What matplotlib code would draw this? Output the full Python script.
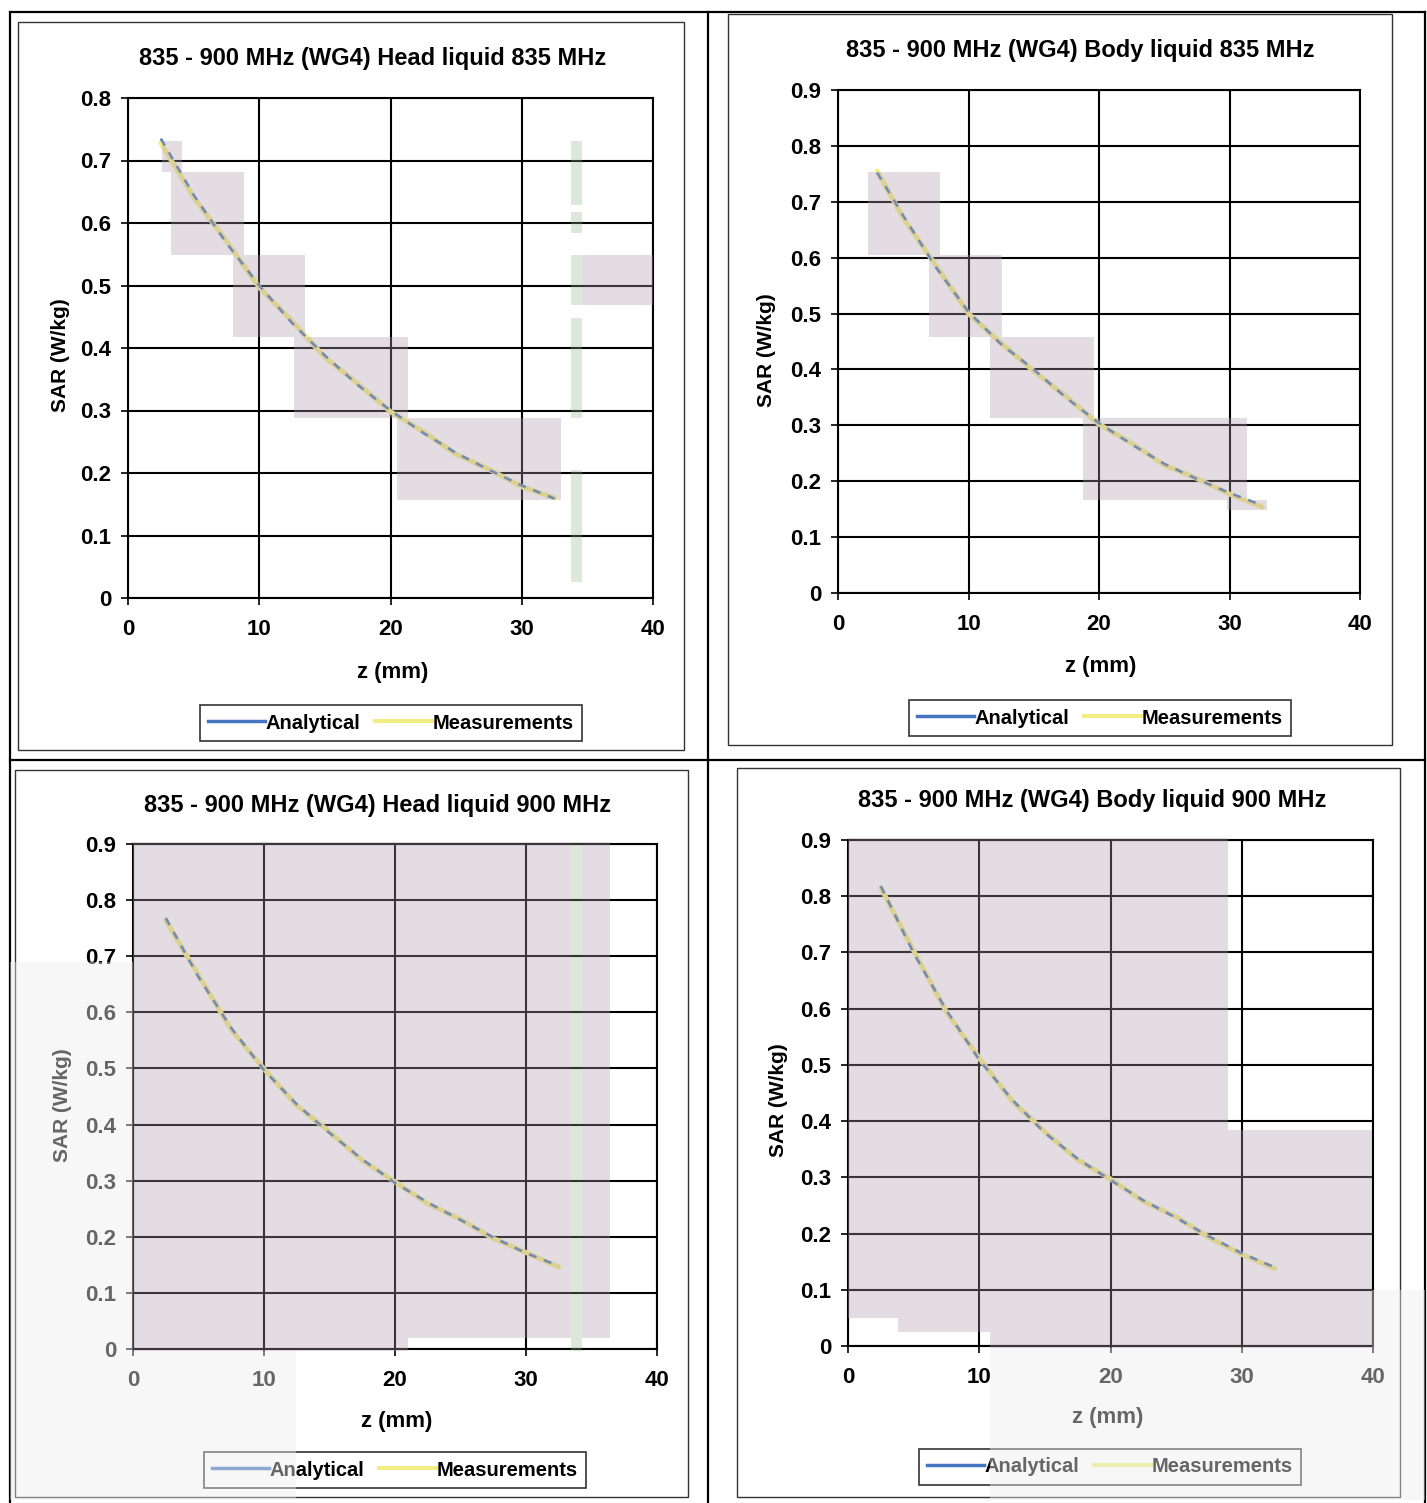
import matplotlib
matplotlib.use("Agg")
import matplotlib.pyplot as plt
from matplotlib.patches import Rectangle
from matplotlib.lines import Line2D

plt.rcParams['font.family'] = ['Liberation Sans', 'DejaVu Sans']
plt.rcParams['font.weight'] = 'bold'

W, H = 1427, 1503

# ---------------- data ----------------
titles = [
    "835 - 900 MHz (WG4) Head liquid 835 MHz",
    "835 - 900 MHz (WG4) Body liquid 835 MHz",
    "835 - 900 MHz (WG4) Head liquid 900 MHz",
    "835 - 900 MHz (WG4) Body liquid 900 MHz",
]
series_names = ["Analytical", "Measurements"]
x_label = "z (mm)"
y_label = "SAR (W/kg)"
x_ticks = [0, 10, 20, 30, 40]
y_max = [0.8, 0.9, 0.9, 0.9]

z_head835 = [2.5, 5, 7.5, 10, 12.5, 15, 17.5, 20, 22.5, 25, 27.5, 30, 32.5]
ana_head835 = [0.735, 0.645, 0.568, 0.500, 0.440, 0.388, 0.341, 0.300, 0.264, 0.232, 0.205, 0.180, 0.159]
mea_head835 = [0.728, 0.641, 0.571, 0.497, 0.443, 0.385, 0.343, 0.298, 0.266, 0.230, 0.206, 0.178, 0.160]

z_body835 = [3, 5, 7.5, 10, 12.5, 15, 17.5, 20, 22.5, 25, 27.5, 30, 32.5]
ana_body835 = [0.752, 0.675, 0.583, 0.503, 0.445, 0.400, 0.349, 0.304, 0.266, 0.231, 0.204, 0.179, 0.157]
mea_body835 = [0.755, 0.671, 0.586, 0.500, 0.447, 0.397, 0.351, 0.302, 0.268, 0.229, 0.205, 0.177, 0.154]

z_head900 = [2.5, 5, 7.5, 10, 12.5, 15, 17.5, 20, 22.5, 25, 27.5, 30, 32.5]
ana_head900 = [0.768, 0.663, 0.572, 0.497, 0.436, 0.385, 0.338, 0.296, 0.261, 0.230, 0.199, 0.171, 0.148]
mea_head900 = [0.764, 0.666, 0.569, 0.499, 0.434, 0.387, 0.336, 0.298, 0.259, 0.231, 0.197, 0.172, 0.146]

z_body900 = [2.5, 5, 7.5, 10, 12.5, 15, 17.5, 20, 22.5, 25, 27.5, 30, 32.5]
ana_body900 = [0.818, 0.699, 0.597, 0.509, 0.438, 0.379, 0.333, 0.295, 0.259, 0.228, 0.195, 0.165, 0.140]
mea_body900 = [0.815, 0.703, 0.594, 0.512, 0.436, 0.381, 0.331, 0.297, 0.257, 0.230, 0.193, 0.163, 0.138]

z_sets = [z_head835, z_body835, z_head900, z_body900]
ana_sets = [ana_head835, ana_body835, ana_head900, ana_body900]
mea_sets = [mea_head835, mea_body835, mea_head900, mea_body900]

# ---------------- layout (pixels) ----------------
plot_boxes = [(128, 98, 653, 598), (838, 90, 1360, 593), (133, 844, 657, 1349), (848, 840, 1373, 1346)]
title_pos = [(373, 58), (1080, 50), (378, 806), (1092, 801)]
ylabel_pos = [(60, 355), (767, 350), (63, 1105), (778, 1100)]
xlabel_pos = [(393, 672), (1101, 667), (397, 1421), (1108, 1418)]
legend_pos = [(391, 723), (1100, 718), (395, 1470), (1110, 1467)]
frames = [(18, 22, 684, 750), (728, 14, 1392, 745), (15, 770, 688, 1497), (737, 768, 1400, 1497)]

BLUE = "#4575c0"
YELLOW = "#f3ee84"

fig = plt.figure(figsize=(W / 100, H / 100), dpi=100)
fig.patch.set_facecolor("white")


def fx(x):
    return x / W


def fy(y):
    return 1 - y / H


for i in range(4):
    x0, y0, x1, y1 = plot_boxes[i]
    ax = fig.add_axes([fx(x0), fy(y1), (x1 - x0) / W, (y1 - y0) / H])
    ax.plot(z_sets[i], mea_sets[i], color=YELLOW, lw=3.6, zorder=3, solid_capstyle='round')
    ax.plot(z_sets[i], ana_sets[i], color=BLUE, lw=1.9, zorder=4, dashes=(3, 3), alpha=0.9)
    ax.set_xlim(0, 40)
    ax.set_ylim(0, y_max[i])
    ax.set_xticks(x_ticks)
    yt = [round(k * 0.1, 1) for k in range(int(round(y_max[i] * 10)) + 1)]
    ax.set_yticks(yt)
    ax.set_yticklabels(["0" if v == 0 else f"{v:.1f}" for v in yt])
    ax.grid(True, color="black", lw=1.5)
    ax.set_axisbelow(True)
    for s in ax.spines.values():
        s.set_color("black")
        s.set_linewidth(1.5)
    ax.tick_params(axis='both', direction='out', length=5, width=1.2, labelsize=16)
    ax.tick_params(axis='x', pad=10)
    ax.tick_params(axis='y', pad=7)
    for lab in ax.get_xticklabels() + ax.get_yticklabels():
        lab.set_fontweight('bold')

    handles = [Line2D([], [], color=BLUE, lw=2.5), Line2D([], [], color=YELLOW, lw=3)]
    lx, ly = legend_pos[i]
    leg = ax.legend(handles, series_names, loc='center', bbox_to_anchor=(fx(lx), fy(ly)),
                    bbox_transform=fig.transFigure, ncol=2, frameon=True, fancybox=False,
                    edgecolor='black', fontsize=14.5, handlelength=2.8, handletextpad=0.05,
                    columnspacing=0.75, borderpad=0.4)
    leg.get_frame().set_linewidth(1.2)
    for t in leg.get_texts():
        t.set_fontweight('bold')

    tx, ty = title_pos[i]
    fig.text(fx(tx), fy(ty), titles[i], ha='center', va='center', fontsize=17, fontweight='bold')
    yx, yy = ylabel_pos[i]
    fig.text(fx(yx), fy(yy), y_label, ha='center', va='center', rotation=90, fontsize=15, fontweight='bold')
    xx, xy = xlabel_pos[i]
    fig.text(fx(xx), fy(xy), x_label, ha='center', va='center', fontsize=16, fontweight='bold')

    a, b, c, d = frames[i]
    fig.add_artist(Rectangle((fx(a), fy(d)), (c - a) / W, (d - b) / H, transform=fig.transFigure,
                             fill=False, edgecolor="#333333", lw=1.0, zorder=2))

# page ruling lines
page_lines = [((10, 12), (1425, 12)), ((10, 12), (10, 1503)), ((708, 12), (708, 1503)),
              ((10, 760), (1425, 760)), ((1425, 12), (1425, 1503))]
for (p, q) in page_lines:
    fig.add_artist(Line2D([fx(p[0]), fx(q[0])], [fy(p[1]), fy(q[1])], transform=fig.transFigure,
                          color="black", lw=1.6, zorder=2))

# scan shading overlays (pixel boxes)
MAUVE = (0.686, 0.614, 0.686)
LIGHT = (0.93, 0.93, 0.93)
GREEN = (0.55, 0.72, 0.50)
overlays = [
    # panel 1
    (162, 141, 182, 172, MAUVE, 0.35), (171, 172, 244, 255, MAUVE, 0.35), (233, 255, 305, 337, MAUVE, 0.35),
    (294, 337, 408, 418, MAUVE, 0.35), (397, 418, 561, 500, MAUVE, 0.35), (582, 255, 653, 305, MAUVE, 0.35),
    (571, 141, 582, 205, GREEN, 0.3), (571, 212, 582, 233, GREEN, 0.3), (571, 255, 582, 305, GREEN, 0.3),
    (571, 318, 582, 418, GREEN, 0.3), (571, 470, 582, 582, GREEN, 0.3),
    # panel 2
    (868, 172, 940, 255, MAUVE, 0.35), (929, 255, 1002, 337, MAUVE, 0.35), (990, 337, 1094, 418, MAUVE, 0.35),
    (1083, 418, 1247, 500, MAUVE, 0.35), (1227, 500, 1267, 510, MAUVE, 0.35),
    # panel 3
    (133, 842, 571, 1338, MAUVE, 0.35), (582, 842, 610, 1338, MAUVE, 0.35), (133, 1338, 408, 1351, MAUVE, 0.35),
    (10, 962, 133, 1500, LIGHT, 0.43), (133, 1351, 296, 1500, LIGHT, 0.43),
    (571, 842, 582, 1351, GREEN, 0.3),
    # panel 4
    (848, 838, 1228, 1318, MAUVE, 0.35), (898, 1318, 1228, 1332, MAUVE, 0.35),
    (990, 1332, 1228, 1348, MAUVE, 0.35), (1228, 1130, 1372, 1348, MAUVE, 0.35),
    (990, 1348, 1425, 1500, LIGHT, 0.43), (1372, 1290, 1425, 1348, LIGHT, 0.43),
]
for (a, b, c, d, col, al) in overlays:
    fig.add_artist(Rectangle((fx(a), fy(d)), (c - a) / W, (d - b) / H, transform=fig.transFigure,
                             facecolor=col, alpha=al, lw=0, zorder=5))

fig.savefig("out.png", dpi=100)
